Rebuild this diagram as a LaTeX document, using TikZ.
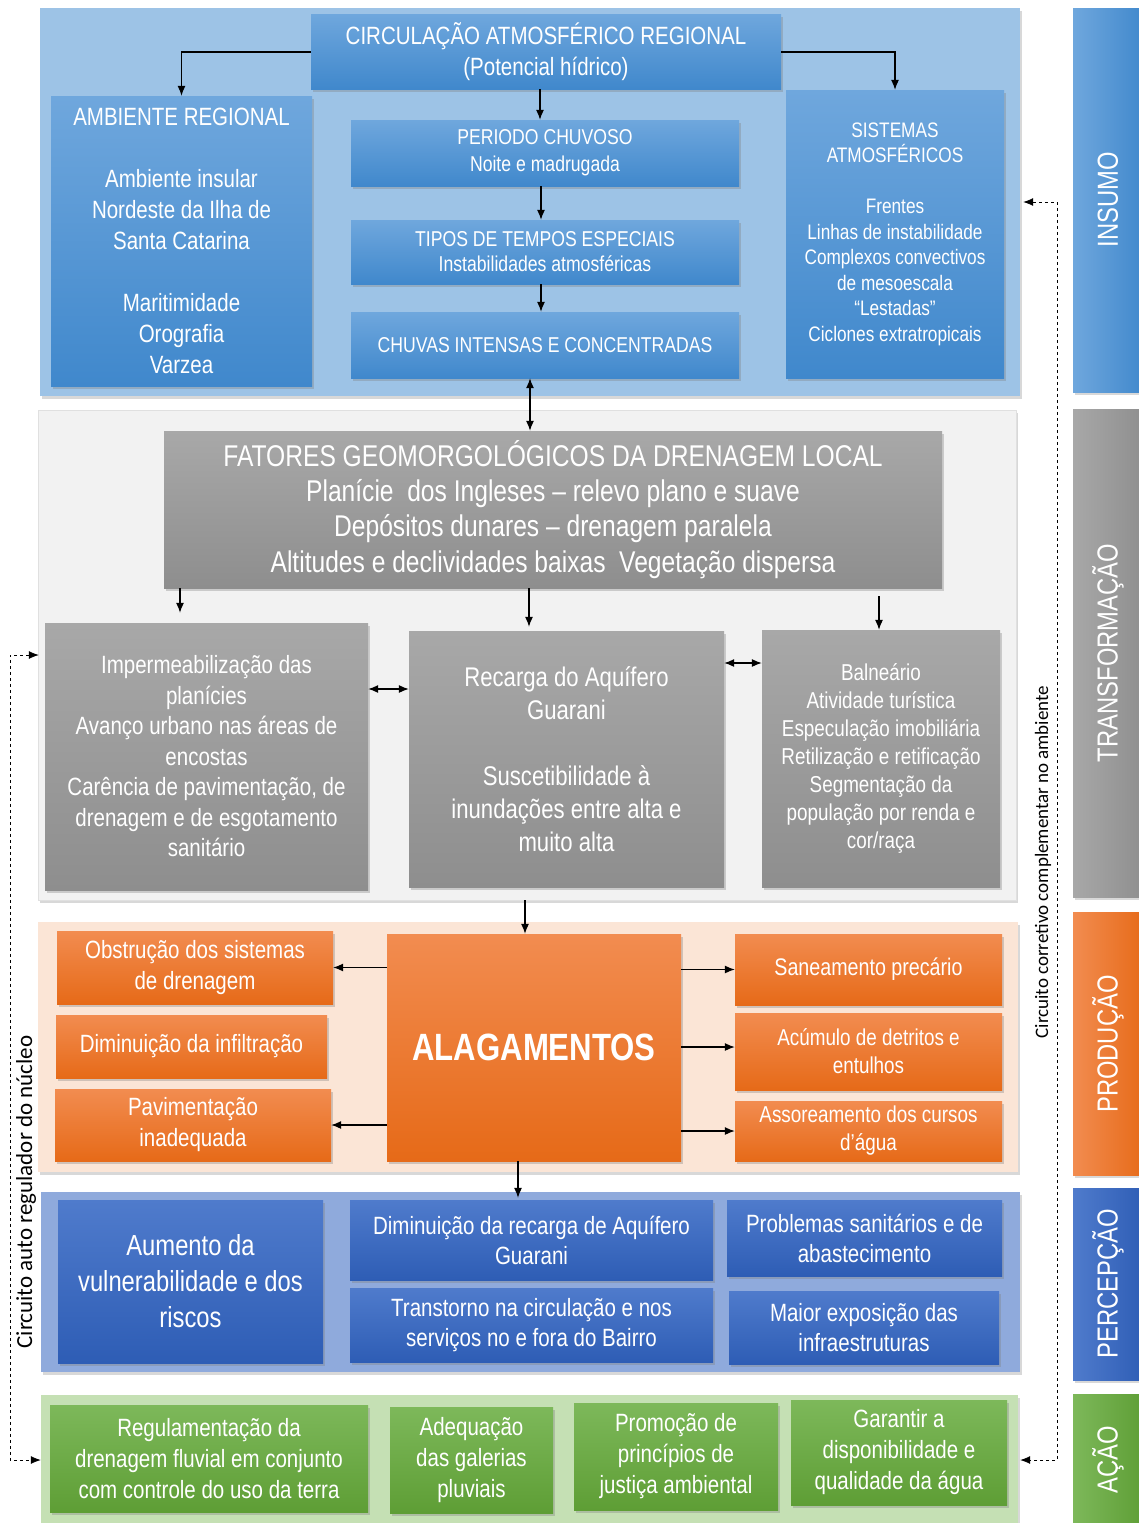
\documentclass[tikz,border=0pt]{standalone}
\usepackage{fontspec}
\setmainfont{Liberation Sans}[FakeStretch=0.82]
\newfontfamily\calfont{Carlito}
\usetikzlibrary{arrows.meta,shadows,fit}
\definecolor{pBlue}{HTML}{9DC3E6}
\definecolor{pGray}{HTML}{F2F2F2}
\definecolor{pOrange}{HTML}{FBE5D6}
\definecolor{pDBlue}{HTML}{8FAADC}
\definecolor{pGreen}{HTML}{C5E0B4}
\definecolor{cBt}{HTML}{6FA7DD}
\definecolor{cBb}{HTML}{4088CC}
\definecolor{cGt}{HTML}{A8A8A8}
\definecolor{cGb}{HTML}{8E8E8E}
\definecolor{cOt}{HTML}{F28C50}
\definecolor{cOb}{HTML}{E66A18}
\definecolor{cDt}{HTML}{4F7BCC}
\definecolor{cDb}{HTML}{2E5DB5}
\definecolor{cNt}{HTML}{7DB85A}
\definecolor{cNb}{HTML}{5E9E35}
\tikzset{
  fs/.style 2 args={font=\fontsize{#1}{#2}\selectfont},
  xy/.style n args={4}{at={({(#1+#3)/2},{(#2+#4)/2})},
    minimum width={(#3-#1)*1pt}, minimum height={(#4-#2)*1pt}},
  bx/.style={inner sep=0pt, align=center, text=white,
    drop shadow={opacity=0.35, shadow xshift=2pt, shadow yshift=-3pt}},
  blu/.style={bx, top color=cBt, bottom color=cBb},
  gry/.style={bx, top color=cGt, bottom color=cGb},
  org/.style={bx, top color=cOt, bottom color=cOb},
  dbl/.style={bx, top color=cDt, bottom color=cDb},
  grn/.style={bx, top color=cNt, bottom color=cNb},
  panel/.style={inner sep=0pt, drop shadow={opacity=0.3, shadow xshift=2pt, shadow yshift=-3pt}},
  side/.style={inner sep=0pt, drop shadow={opacity=0.3, shadow xshift=2pt, shadow yshift=-3pt}},
  sidetext/.style={text=white, rotate=90, fs={29}{34}},
  arr/.style={draw=black, line width=1.1pt, -{Latex[length=10pt,width=8pt]}},
  darr/.style={draw=black, line width=1.1pt, {Latex[length=10pt,width=8pt]}-{Latex[length=10pt,width=8pt]}},
  dsh/.style={draw=black, line width=0.8pt, dashed, {Latex[length=10pt,width=8pt]}-{Latex[length=10pt,width=8pt]}}
}
\begin{document}
\begin{tikzpicture}[x=1pt,y=-1pt]
\useasboundingbox (0,0) rectangle (1138,1523);
\fill[white] (0,0) rectangle (1138,1523);

% panels
\node[panel, fill=pBlue, fit={(40,8)(1020,396)}] (p1) {};
\node[panel, fill=pGray, draw=black!12, fit={(38,410)(1016,900)}] (p2) {};
\node[panel, fill=pOrange, fit={(38,922)(1018,1172)}] (p3) {};
\node[panel, fill=pDBlue, fit={(41,1192)(1020,1372)}] (p4) {};
\node[panel, fill=pGreen, fit={(41,1395)(1018,1535)}] (p5) {};

% side bars
\node[side, left color=cBt, right color=cBb, fit={(1073,8)(1145,392)}] (s1) {};
\node[side, left color=cGt, right color=cGb, fit={(1073,409)(1145,897)}] (s2) {};
\node[side, left color=cOt, right color=cOb, fit={(1073,912)(1145,1175)}] (s3) {};
\node[side, left color=cDt, right color=cDb, fit={(1073,1188)(1145,1380)}] (s4) {};
\node[side, left color=cNt, right color=cNb, fit={(1073,1394)(1145,1535)}] (s5) {};
\node[sidetext] (t1) at (1108,200) {INSUMO};
\node[sidetext] (t2) at (1108,653) {TRANSFORMAÇÃO};
\node[sidetext] (t3) at (1108,1044) {PRODUÇÃO};
\node[sidetext] (t4) at (1108,1284) {PERCEPÇÃO};
\node[sidetext] (t5) at (1108,1460) {AÇÃO};

% panel 1
\node[blu, fs={25}{31}, xy={311}{14}{781}{89}] (circ) {CIRCULAÇÃO ATMOSFÉRICO REGIONAL\\(Potencial hídrico)};
\node[blu, fs={25}{31}, xy={51}{96}{312}{386}] (amb) {AMBIENTE REGIONAL\\[31pt]Ambiente insular\\Nordeste da Ilha de\\Santa Catarina\\[31pt]Maritimidade\\Orografia\\Varzea};
\node[blu, fs={21.5}{27}, xy={351}{120}{739}{186}] (per) {PERIODO CHUVOSO\\Noite e madrugada};
\node[blu, fs={21.5}{25}, xy={351}{220}{739}{284}] (tip) {TIPOS DE TEMPOS ESPECIAIS\\Instabilidades atmosféricas};
\node[blu, fs={21.5}{27}, xy={351}{312}{739}{378}] (chu) {CHUVAS INTENSAS E CONCENTRADAS};
\node[blu, fs={21}{25.5}, xy={786}{90}{1004}{378}] (sis) {SISTEMAS\\ATMOSFÉRICOS\\[25.5pt]Frentes\\Linhas de instabilidade\\Complexos convectivos\\de mesoescala\\“Lestadas”\\Ciclones extratropicais};

% panel 2
\node[gry, fs={30}{35.3}, xy={164}{431}{942}{588}] (fat) {FATORES GEOMORGOLÓGICOS DA DRENAGEM LOCAL\\Planície\ \ dos Ingleses – relevo plano e suave\\Depósitos dunares – drenagem paralela\\Altitudes e declividades baixas\ \ Vegetação dispersa};
\node[gry, fs={25}{30.5}, xy={45}{623}{368}{890}] (imp) {Impermeabilização das\\planícies\\Avanço urbano nas áreas de\\encostas\\Carência de pavimentação, de\\drenagem e de esgotamento\\sanitário};
\node[gry, fs={27}{33}, xy={409}{631}{724}{887}] (rec) {Recarga do Aquífero\\Guarani\\[33pt]Suscetibilidade à\\inundações entre alta e\\muito alta};
\node[gry, fs={23}{28}, xy={762}{630}{1000}{887}] (bal) {Balneário\\Atividade turística\\Especulação imobiliária\\Retilização e retificação\\Segmentação da\\população por renda e\\cor/raça};

% panel 3
\node[org, font=\fontsize{38}{44}\selectfont\bfseries, xy={387}{934}{681}{1161}] (alag) {ALAGAMENTOS};
\node[org, fs={25}{31}, xy={57}{931}{333}{1004}] (obs) {Obstrução dos sistemas\\de drenagem};
\node[org, fs={25}{31}, xy={56}{1015}{327}{1078}] (din) {Diminuição da infiltração};
\node[org, fs={25}{31}, xy={55}{1089}{331}{1161}] (pav) {Pavimentação\\inadequada};
\node[org, fs={24}{31}, xy={735}{934}{1002}{1005}] (san) {Saneamento precário};
\node[org, fs={23}{28}, xy={735}{1013}{1002}{1090}] (acu) {Acúmulo de detritos e\\entulhos};
\node[org, fs={23}{28}, xy={735}{1101}{1002}{1161}] (ass) {Assoreamento dos cursos\\d’água};

% panel 4
\node[dbl, fs={29}{36}, xy={58}{1200}{323}{1363}] (aum) {Aumento da\\vulnerabilidade e dos\\riscos};
\node[dbl, fs={25}{30}, xy={350}{1200}{713}{1280}] (dra) {Diminuição da recarga de Aquífero\\Guarani};
\node[dbl, fs={25}{30}, xy={727}{1200}{1002}{1276}] (pro) {Problemas sanitários e de\\abastecimento};
\node[dbl, fs={25}{30}, xy={350}{1288}{713}{1362}] (tra) {Transtorno na circulação e nos\\serviços no e fora do Bairro};
\node[dbl, fs={25}{30}, xy={729}{1291}{999}{1364}] (mai) {Maior exposição das\\infraestruturas};

% panel 5
\node[grn, fs={25}{31}, xy={50}{1405}{368}{1512}] (reg) {Regulamentação da\\drenagem fluvial em conjunto\\com controle do uso da terra};
\node[grn, fs={25}{31}, xy={390}{1407}{553}{1513}] (ade) {Adequação\\das galerias\\pluviais};
\node[grn, fs={25}{31}, xy={574}{1403}{778}{1510}] (prm) {Promoção de\\princípios de\\justiça ambiental};
\node[grn, fs={25}{31}, xy={791}{1400}{1007}{1505}] (gar) {Garantir a\\disponibilidade e\\qualidade da água};

% arrows panel 1
\draw[arr] (circ.west |- 0,52) -| (amb.north);
\draw[arr] (circ.east |- 0,52) -| (sis.north);
\draw[arr] ([xshift=-5pt]per.north |- circ.south) -- ([xshift=-5pt]per.north);
\draw[arr] ([xshift=-4pt]per.south) -- ([xshift=-4pt]tip.north);
\draw[arr] ([xshift=-4pt]tip.south) -- ([xshift=-4pt]chu.north);
\draw[darr] ([xshift=-15pt]chu.south) -- ([xshift=-15pt]chu.south |- fat.north);

% arrows panel 2
\draw[arr] (fat.south -| 180,0) -- ([yshift=10pt]imp.north -| 180,0);
\draw[arr] (fat.south -| 529,0) -- ([yshift=4pt]rec.north -| 529,0);
\draw[arr] ([yshift=-8pt]fat.south -| 879,0) -- (bal.north -| 879,0);
\draw[darr] (imp.east |- 0,689) -- (rec.west |- 0,689);
\draw[darr] (rec.east |- 0,663) -- (bal.west |- 0,663);
\draw[arr] (p2.south -| 525,0) -- (alag.north -| 525,0);

% arrows panel 3
\draw[arr] (alag.west |- obs.east) -- (obs.east);
\draw[arr] (alag.west |- pav.east) -- (pav.east);
\draw[arr] (alag.east |- san.west) -- (san.west);
\draw[arr] (alag.east |- 0,1047) -- (acu.west |- 0,1047);
\draw[arr] (alag.east |- ass.west) -- (ass.west);
\draw[arr] (alag.south -| 518,0) -- ([yshift=2pt]dra.north -| 518,0);

% dashed feedback loops
\coordinate (lt) at (10,655);
\coordinate (lb) at (10,1460);
\draw[dsh] ([xshift=-6pt]imp.west |- lt) -- (lt) -- (lb) -- ([xshift=-9pt]reg.west |- lb);
\coordinate (rt) at (1057,202);
\coordinate (rb) at (1057,1460);
\draw[dsh] ([xshift=3pt]p1.east |- rt) -- (rt) -- (rb) -- ([xshift=2pt]p5.east |- rb);
\node[rotate=90, font=\calfont\fontsize{23}{27}\selectfont] (lab1) at (26,1192) {Circuito auto regulador do núcleo};
\node[rotate=90, font=\calfont\fontsize{19}{23}\selectfont] (lab2) at (1043,862) {Circuito corretivo complementar no ambiente};
\end{tikzpicture}
\end{document}
